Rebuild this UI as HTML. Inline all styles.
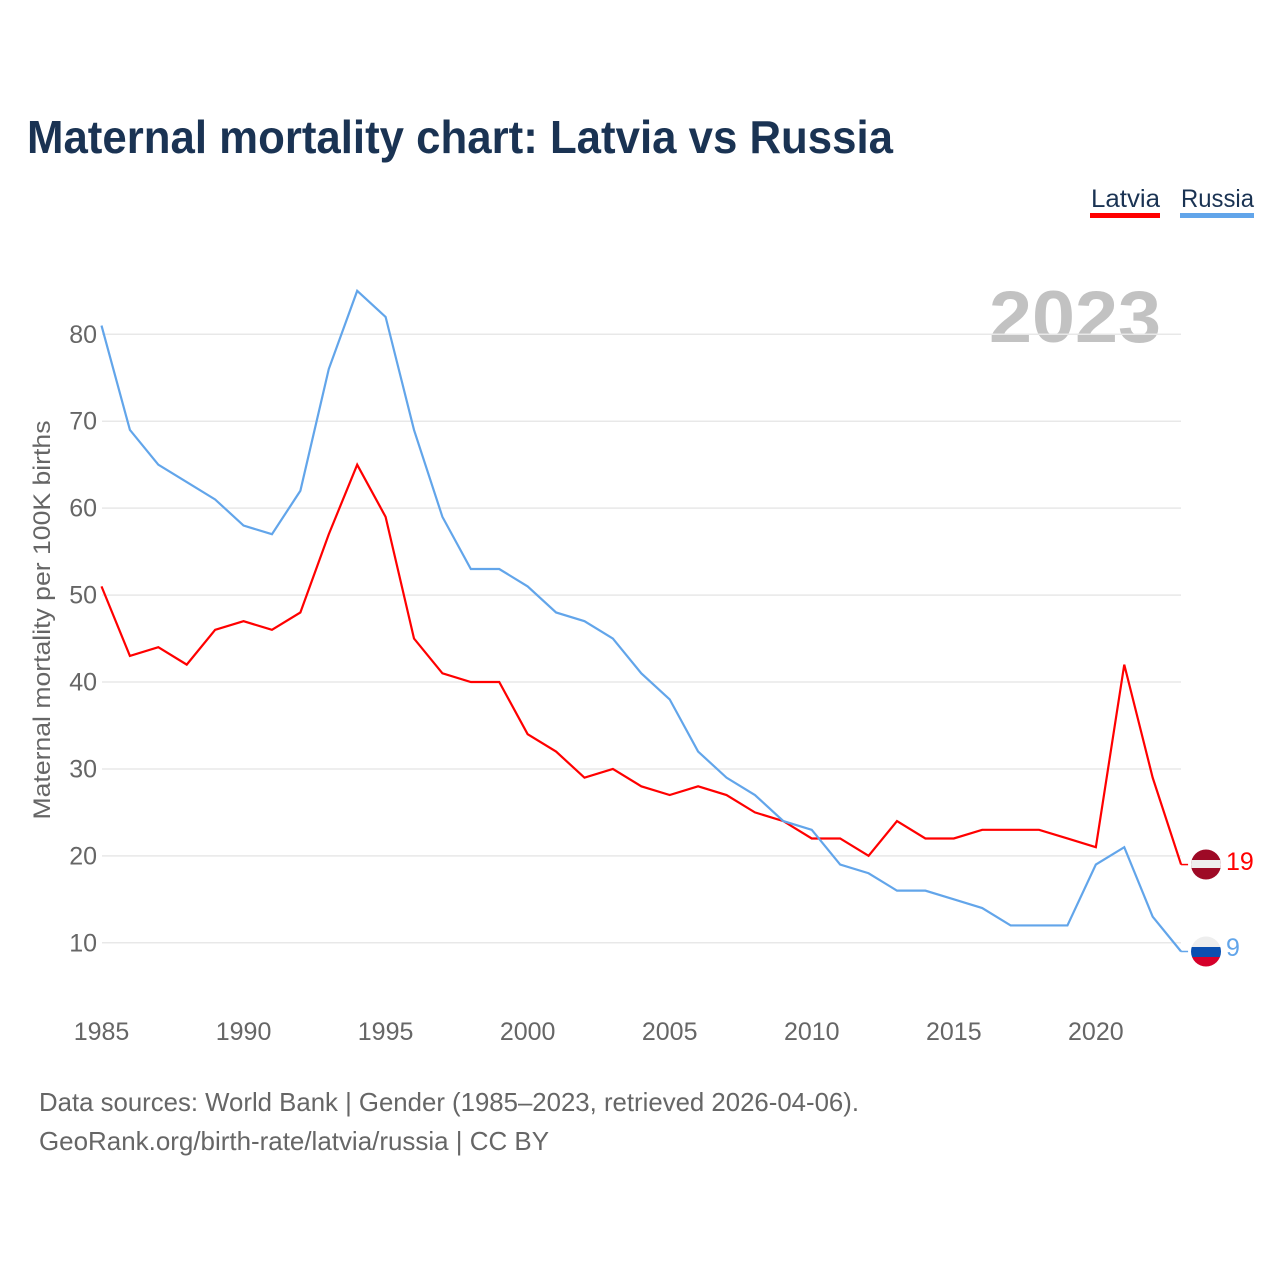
<!DOCTYPE html>
<html lang="en">
<head>
<meta charset="utf-8">
<title>Maternal mortality chart: Latvia vs Russia</title>
<style>
html,body{margin:0;padding:0;background:#fff;width:1280px;height:1280px;overflow:hidden}
svg{display:block}
text{font-family:"Liberation Sans",sans-serif}
</style>
</head>
<body>
<svg id="chart" width="1280" height="1280" viewBox="0 0 1280 1280" xmlns="http://www.w3.org/2000/svg">
  <text x="27" y="153" font-size="46" font-weight="700" fill="#1a3353" textLength="866" lengthAdjust="spacingAndGlyphs">Maternal mortality chart: Latvia vs Russia</text>

  <g>
    <g>
      <text x="1091" y="207" font-size="25" fill="#1a3353" textLength="69" lengthAdjust="spacingAndGlyphs">Latvia</text>
      <rect x="1090" y="213" width="70" height="5" fill="#ff0000"/>
    </g>
    <g>
      <text x="1181" y="207" font-size="25" fill="#1a3353" textLength="73" lengthAdjust="spacingAndGlyphs">Russia</text>
      <rect x="1180" y="213" width="74" height="5" fill="#62a5ea"/>
    </g>
  </g>

  <text x="1161" y="342" text-anchor="end" font-size="73" font-weight="700" fill="#c2c2c2" textLength="172" lengthAdjust="spacingAndGlyphs">2023</text>

  <g id="grid"></g>
  <g id="yticks"></g>
  <g id="xticks"></g>

  <text transform="translate(50,620) rotate(-90)" text-anchor="middle" font-size="24" fill="#666666" textLength="399" lengthAdjust="spacingAndGlyphs">Maternal mortality per 100K births</text>

  <g id="series"></g>

  <defs>
    <clipPath id="flag-clip-lv"><circle cx="1206" cy="864.5" r="15"/></clipPath>
    <clipPath id="flag-clip-ru"><circle cx="1206" cy="951.5" r="15"/></clipPath>
  </defs>
  <g id="flag-latvia" clip-path="url(#flag-clip-lv)">
    <rect x="1190" y="849" width="32" height="31" fill="#9e0a26"/>
    <rect x="1190" y="860" width="32" height="8" fill="#eeeeee"/>
  </g>
  <g id="flag-russia" clip-path="url(#flag-clip-ru)">
    <rect x="1190" y="936" width="32" height="11" fill="#eeeeee"/>
    <rect x="1190" y="947" width="32" height="10" fill="#0a4fb0"/>
    <rect x="1190" y="957" width="32" height="10" fill="#d5002a"/>
  </g>
  <text id="end-latvia" x="1226" y="870" font-size="25" fill="#ff0000"></text>
  <text id="end-russia" x="1226" y="956" font-size="25" fill="#62a5ea"></text>

  <g>
    <text x="39" y="1111" font-size="26" fill="#666666" textLength="820" lengthAdjust="spacingAndGlyphs">Data sources: World Bank | Gender (1985–2023, retrieved 2026-04-06).</text>
    <text x="39" y="1150" font-size="26" fill="#666666" textLength="510" lengthAdjust="spacingAndGlyphs">GeoRank.org/birth-rate/latvia/russia | CC BY</text>
  </g>
</svg>
<script>
const years = [1985,1986,1987,1988,1989,1990,1991,1992,1993,1994,1995,1996,1997,1998,1999,2000,2001,2002,2003,2004,2005,2006,2007,2008,2009,2010,2011,2012,2013,2014,2015,2016,2017,2018,2019,2020,2021,2022,2023];
const latvia = [51,43,44,42,46,47,46,48,57,65,59,45,41,40,40,34,32,29,30,28,27,28,27,25,24,22,22,20,24,22,22,23,23,23,22,21,42,29,19];
const russia = [81,69,65,63,61,58,57,62,76,85,82,69,59,53,53,51,48,47,45,41,38,32,29,27,24,23,19,18,16,16,15,14,12,12,12,19,21,13,9];
const yTicks = [10,20,30,40,50,60,70,80];
const xTicks = [1985,1990,1995,2000,2005,2010,2015,2020];

const NS = 'http://www.w3.org/2000/svg';
const xScale = function (yr) { return 101.5 + (yr - 1985) * 28.41; };
const yScale = function (v) { return 942.8 - (v - 10) * 8.693; };

const grid = document.getElementById('grid');
const yt = document.getElementById('yticks');
yTicks.forEach(function (t) {
  const ln = document.createElementNS(NS, 'line');
  
  
  ln.setAttribute('x1', 102);
  ln.setAttribute('x2', 1181);
  ln.setAttribute('y1', yScale(t));
  ln.setAttribute('y2', yScale(t));
  ln.setAttribute('stroke', '#e8e8e8');
  ln.setAttribute('stroke-width', 1.5);
  grid.appendChild(ln);
  const tx = document.createElementNS(NS, 'text');
  
  
  tx.setAttribute('x', 97);
  tx.setAttribute('y', yScale(t) + 8.5);
  tx.setAttribute('text-anchor', 'end');
  tx.setAttribute('font-size', 25);
  tx.setAttribute('fill', '#666666');
  tx.textContent = t;
  yt.appendChild(tx);
});

const xt = document.getElementById('xticks');
xTicks.forEach(function (t) {
  const tx = document.createElementNS(NS, 'text');
  
  
  tx.setAttribute('x', xScale(t));
  tx.setAttribute('y', 1040);
  tx.setAttribute('text-anchor', 'middle');
  tx.setAttribute('font-size', 25);
  tx.setAttribute('fill', '#666666');
  tx.textContent = t;
  xt.appendChild(tx);
});

function buildPoints(values) {
  return values.map(function (v, i) { return xScale(years[i]) + ',' + yScale(v); }).join(' ');
}

const seriesGroup = document.getElementById('series');

const latviaLine = document.createElementNS(NS, 'polyline');


latviaLine.setAttribute('points', buildPoints(latvia));
latviaLine.setAttribute('fill', 'none');
latviaLine.setAttribute('stroke', '#ff0000');
latviaLine.setAttribute('stroke-width', 2.2);
seriesGroup.appendChild(latviaLine);

const russiaLine = document.createElementNS(NS, 'polyline');


russiaLine.setAttribute('points', buildPoints(russia));
russiaLine.setAttribute('fill', 'none');
russiaLine.setAttribute('stroke', '#62a5ea');
russiaLine.setAttribute('stroke-width', 2.2);
seriesGroup.appendChild(russiaLine);

const lastX = xScale(years[years.length - 1]);
const latviaLast = latvia[latvia.length - 1];
const russiaLast = russia[russia.length - 1];

const latviaStub = document.createElementNS(NS, 'line');


latviaStub.setAttribute('x1', lastX);
latviaStub.setAttribute('x2', lastX + 7);
latviaStub.setAttribute('y1', yScale(latviaLast));
latviaStub.setAttribute('y2', yScale(latviaLast));
latviaStub.setAttribute('stroke', '#ff0000');
latviaStub.setAttribute('stroke-width', 1.5);
seriesGroup.appendChild(latviaStub);

const russiaStub = document.createElementNS(NS, 'line');


russiaStub.setAttribute('x1', lastX);
russiaStub.setAttribute('x2', lastX + 7);
russiaStub.setAttribute('y1', yScale(russiaLast));
russiaStub.setAttribute('y2', yScale(russiaLast));
russiaStub.setAttribute('stroke', '#62a5ea');
russiaStub.setAttribute('stroke-width', 1.5);
seriesGroup.appendChild(russiaStub);

document.getElementById('end-latvia').textContent = latviaLast;
document.getElementById('end-russia').textContent = russiaLast;
</script>
</body>
</html>
